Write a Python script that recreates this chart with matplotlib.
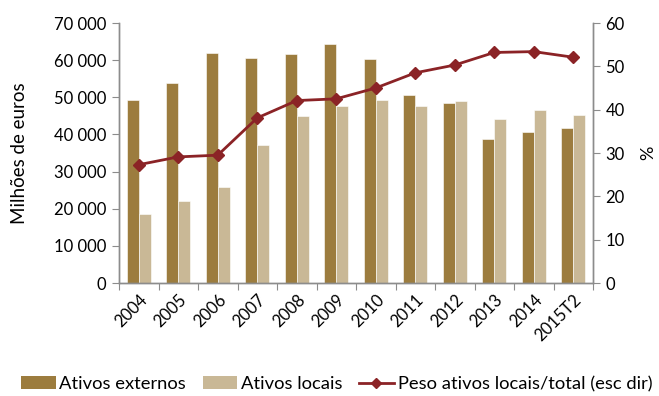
import matplotlib
matplotlib.use("Agg")
import matplotlib.pyplot as plt
import numpy as np
from matplotlib.ticker import FuncFormatter
from matplotlib.lines import Line2D
from matplotlib.patches import Patch

plt.rcParams['font.family'] = ['Lato', 'DejaVu Sans']

categories = ["2004", "2005", "2006", "2007", "2008", "2009", "2010",
              "2011", "2012", "2013", "2014", "2015T2"]
ativos_externos = [49400, 53800, 62000, 60500, 61600, 64300, 60200,
                   50600, 48500, 38900, 40600, 41700]
ativos_locais = [18600, 22000, 25900, 37200, 44900, 47700, 49400,
                 47700, 49100, 44200, 46700, 45200]
peso_locais = [27.3, 29.1, 29.5, 38.1, 42.1, 42.5, 45.0,
               48.5, 50.3, 53.2, 53.4, 52.1]

c_ext = "#9C7C3E"
c_loc = "#C9B896"
c_line = "#8B2326"
grey = "#8C8C8C"

fig = plt.figure(figsize=(6.59, 3.96), dpi=100)
ax = fig.add_axes([119/659, 1-283/396, (593-119)/659, (283-23)/396])
ax2 = ax.twinx()

x = np.arange(len(categories))
w = 0.31
ax.bar(x - w/2, ativos_externos, width=w, color=c_ext, edgecolor="white", linewidth=0.4, zorder=2)
ax.bar(x + w/2, ativos_locais, width=w, color=c_loc, edgecolor="white", linewidth=0.4, zorder=2)
ax2.plot(x, peso_locais, color=c_line, linewidth=2, marker="D", markersize=6.5, zorder=3)

ax.set_xlim(-0.5, len(categories) - 0.5)
ax.set_ylim(0, 70000)
ax.set_yticks(np.arange(0, 70001, 10000))
ax.yaxis.set_major_formatter(FuncFormatter(lambda v, p: f"{int(v):,}".replace(",", " ")))
ax2.set_ylim(0, 60)
ax2.set_yticks(np.arange(0, 61, 10))

ax.set_xticks(np.arange(-0.5, len(categories), 1.0), minor=False)
ax.set_xticklabels([])
ax.set_xticks(x, minor=True)
ax.set_xticklabels(categories, minor=True, rotation=45, ha="right", rotation_mode="anchor", fontsize=12)
ax.tick_params(axis="x", which="minor", length=0, pad=6)
ax.tick_params(axis="x", which="major", length=5, color=grey, direction="out")
ax.tick_params(axis="y", length=5, color=grey, labelsize=12, pad=4)
ax2.tick_params(axis="y", length=5, color=grey, labelsize=12, pad=4)

for a in (ax, ax2):
    a.spines["top"].set_visible(False)
    for s in ("left", "right", "bottom"):
        a.spines[s].set_color(grey)
        a.spines[s].set_linewidth(1)

ax.set_ylabel("Milhões de euros", fontsize=13.5)
ax.yaxis.set_label_coords((28 - 119) / 474, 0.5)
ax2.set_ylabel("%", fontsize=13)
ax2.yaxis.set_label_coords((640 - 119) / 474, 0.5)

handles = [Patch(facecolor=c_ext), Patch(facecolor=c_loc),
           Line2D([], [], color=c_line, linewidth=2, marker="D", markersize=5)]
labels = ["Ativos externos", "Ativos locais", "Peso ativos locais/total (esc dir)"]
fig.legend(handles, labels, loc="center", bbox_to_anchor=((18 + 655) / 2 / 659, 1 - 384 / 396),
           ncol=3, frameon=False, fontsize=13.2, handlelength=1.9, handleheight=0.75,
           columnspacing=0.9, handletextpad=0.2, borderpad=0, borderaxespad=0)

fig.savefig("out.png", dpi=100)
